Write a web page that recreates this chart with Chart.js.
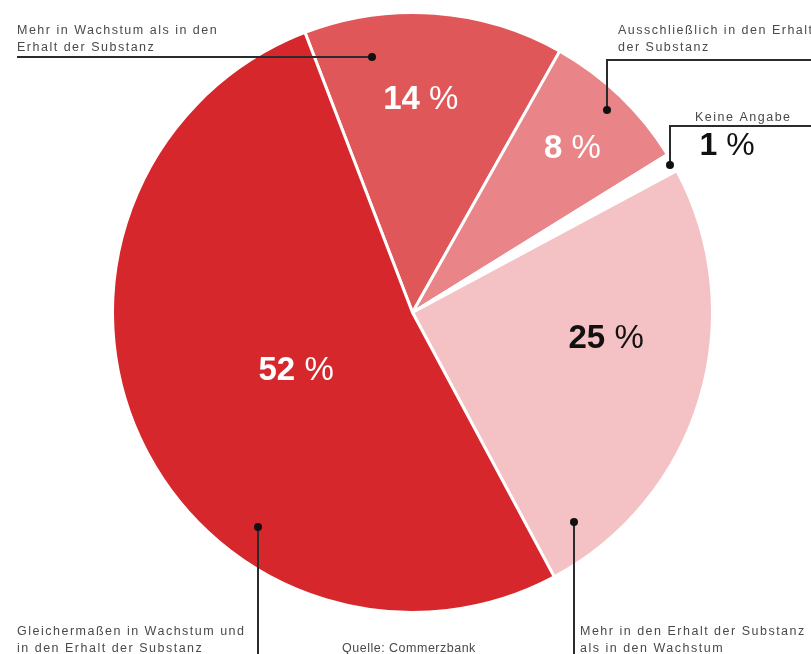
<!DOCTYPE html>
<html lang="de">
<head>
<meta charset="utf-8">
<title>Commerzbank Umfrage</title>
<script src="https://cdn.jsdelivr.net/npm/chart.js@4.4.1/dist/chart.umd.min.js"></script>
<style>
  html, body { margin: 0; padding: 0; background: #fff; }
  #wrap { width: 811px; height: 654px; position: relative; overflow: hidden; }
</style>
</head>
<body>
<div id="wrap"><canvas id="torte" width="811" height="654"></canvas></div>
<script>
// Antworten im Uhrzeigersinn, beginnend mit "Mehr in Wachstum ..."
const kategorien = [
  "Mehr in Wachstum als in den Erhalt der Substanz",
  "Ausschließlich in den Erhalt der Substanz",
  "Keine Angabe",
  "Mehr in den Erhalt der Substanz als in den Wachstum",
  "Gleichermaßen in Wachstum und in den Erhalt der Substanz"
];
const anteile = [14, 8, 1, 25, 52];
const farben = ["#e0575a", "#e98588", "#ffffff", "#f4c2c4", "#d6272c"];
const textFarben = ["#ffffff", "#ffffff", null, "#111111", "#ffffff"];

// Lage der Prozentzahlen im Segment: Anteil am Radius, Winkelversatz in Grad
const labelRadius = [0.72, 0.77, 0, 0.65, 0.43];
const labelWinkel = [-2, 0, 0, -10, -1];

// Beschriftungen mit Hinweislinien (Text, Linienzug, Punkt am Ende)
const hinweise = [
  { zeilen: ["Mehr in Wachstum als in den", "Erhalt der Substanz"], x: 17, y: 34,
    pfad: [[17, 57], [372, 57]] },
  { zeilen: ["Ausschließlich in den Erhalt", "der Substanz"], x: 618, y: 34,
    pfad: [[811, 60], [607, 60], [607, 110]] },
  { zeilen: ["Keine Angabe"], x: 695, y: 121,
    pfad: [[811, 126], [670, 126], [670, 165]] },
  { zeilen: ["Gleichermaßen in Wachstum und", "in den Erhalt der Substanz"], x: 17, y: 635,
    pfad: [[258, 654], [258, 527]] },
  { zeilen: ["Mehr in den Erhalt der Substanz", "als in den Wachstum"], x: 580, y: 635,
    pfad: [[574, 654], [574, 522]] }
];

const schrift = "'Liberation Sans', Arial, sans-serif";

function prozentText(ctx, wert, x, y, farbe, groesse) {
  // Zahl fett, Prozentzeichen etwas leichter
  const zahl = String(wert);
  ctx.fillStyle = farbe;
  ctx.textBaseline = "middle";
  ctx.textAlign = "left";
  ctx.font = "bold " + groesse + "px " + schrift;
  const wZahl = ctx.measureText(zahl).width;
  ctx.font = groesse + "px " + schrift;
  const wLuecke = groesse * 0.28;
  const wProz = ctx.measureText("%").width;
  const x0 = x - (wZahl + wLuecke + wProz) / 2;
  ctx.font = "bold " + groesse + "px " + schrift;
  ctx.fillText(zahl, x0, y);
  ctx.font = groesse + "px " + schrift;
  ctx.fillText("%", x0 + wZahl + wLuecke, y);
}

const beschriftung = {
  id: "beschriftung",
  afterDatasetsDraw(chart) {
    const ctx = chart.ctx;
    const arcs = chart.getDatasetMeta(0).data;
    ctx.save();

    // Prozentwerte in den Segmenten
    arcs.forEach((arc, i) => {
      if (!labelRadius[i]) return;
      const p = arc.getProps(["x", "y", "startAngle", "endAngle", "outerRadius"], true);
      const a = (p.startAngle + p.endAngle) / 2 + labelWinkel[i] * Math.PI / 180;
      const r = p.outerRadius * labelRadius[i];
      prozentText(ctx, anteile[i], p.x + Math.cos(a) * r, p.y + Math.sin(a) * r + 3, textFarben[i], 33);
    });

    // Hinweistexte mit Linien
    ctx.font = "12.5px " + schrift;
    ctx.letterSpacing = "1.5px";
    ctx.textBaseline = "alphabetic";
    ctx.textAlign = "left";
    hinweise.forEach(h => {
      ctx.fillStyle = "#4a4a4a";
      h.zeilen.forEach((z, k) => ctx.fillText(z, h.x, h.y + k * 17));
      ctx.strokeStyle = "#2b2b2b";
      ctx.lineWidth = 2;
      ctx.beginPath();
      h.pfad.forEach(([px, py], k) => k ? ctx.lineTo(px, py) : ctx.moveTo(px, py));
      ctx.stroke();
      const [ex, ey] = h.pfad[h.pfad.length - 1];
      ctx.fillStyle = "#111";
      ctx.beginPath();
      ctx.arc(ex, ey, 4, 0, Math.PI * 2);
      ctx.fill();
    });

    ctx.letterSpacing = "0.5px";
    ctx.fillStyle = "#4a4a4a";
    ctx.fillText("Quelle: Commerzbank", 342, 652);
    ctx.letterSpacing = "0px";

    // "Keine Angabe" steht außerhalb der Torte
    prozentText(ctx, anteile[2], 727, 146, "#111111", 32);
    ctx.restore();
  }
};

new Chart(document.getElementById("torte"), {
  type: "pie",
  data: {
    labels: kategorien,
    datasets: [{
      data: anteile,
      backgroundColor: farben,
      borderColor: "#ffffff",
      borderWidth: 3
    }]
  },
  options: {
    responsive: false,
    animation: false,
    rotation: -21,
    layout: { padding: { left: 111, right: 97, top: 11, bottom: 40 } },
    plugins: {
      legend: { display: false },
      tooltip: { enabled: false }
    },
    events: []
  },
  plugins: [beschriftung]
});
</script>
</body>
</html>
